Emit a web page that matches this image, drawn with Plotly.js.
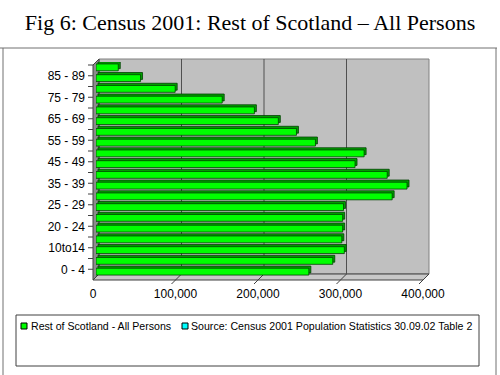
<!DOCTYPE html>
<html><head><meta charset="utf-8">
<script src="https://cdn.plot.ly/plotly-3.0.1.min.js"></script>
<style>html,body{margin:0;padding:0;background:#fff}#chart{width:500px;height:375px}</style>
</head><body><div id="chart"></div>
<script>
// ---- data ----
const ageGroups = ["0 - 4","5 - 9","10to14","15 - 19","20 - 24","16 - 24","25 - 29","30 - 34","35 - 39","40 - 44",
                   "45 - 49","50 - 54","55 - 59","60 - 64","65 - 69","70 - 74","75 - 79","80 - 84","85 - 89","90+"];
const ageLabels = ["0 - 4","","10to14","","20 - 24","","25 - 29","","35 - 39","",
                   "45 - 49","","55 - 59","","65 - 69","","75 - 79","","85 - 89",""];
const persons = [258000,287000,301000,298000,299000,299000,300000,359000,377000,353000,
                 314000,325000,266000,243000,221000,192000,153000,96000,54000,27000];
const xTickVals = [0,100000,200000,300000,400000];
const seriesName = "Rest of Scotland - All Persons";
const sourceName = "Source: Census 2001 Population Statistics 30.09.02 Table 2";
const seriesColors = ["#00ff00", "#00ffff"];
const titleText = "Fig 6: Census 2001: Rest of Scotland \u2013 All Persons";

// ---- geometry (pixels) ----
const L = 96, T = 62, W = 330, H = 215, FIGW = 500, FIGH = 375;
const D = 3; // half depth offset in px
const px = x => (x - L) / W;
const py = y => (T + H - y) / H;
const barW = 0.64;

const FONT = "Liberation Sans, Arial, sans-serif";

const shapes = [];
// back wall
shapes.push({type:'rect', xref:'paper', yref:'paper', layer:'below',
  x0:px(L + D), x1:px(L + W + D), y0:py(T + H - D), y1:py(T - D),
  fillcolor:'#c0c0c0', line:{color:'#808080', width:1}});
// floor
shapes.push({type:'path', xref:'paper', yref:'paper', layer:'below',
  path:`M${px(L-D)},${py(T+H+D)} L${px(L+W-D)},${py(T+H+D)} L${px(L+W+D)},${py(T+H-D)} L${px(L+D)},${py(T+H-D)} Z`,
  fillcolor:'#c8c8c8', line:{color:'#404040', width:1}});
// left wall
shapes.push({type:'path', xref:'paper', yref:'paper', layer:'below',
  path:`M${px(L-D)},${py(T+D)} L${px(L+D)},${py(T-D)} L${px(L+D)},${py(T+H-D)} L${px(L-D)},${py(T+H+D)} Z`,
  fillcolor:'#8c8c8c', line:{color:'#404040', width:1}});
// gridlines on back wall + depth lines / ticks on floor
xTickVals.forEach(v => {
  if (v > 0) {
    shapes.push({type:'line', xref:'x', xsizemode:'pixel', xanchor:v, x0:D, x1:D,
      yref:'paper', y0:py(T+H-D), y1:py(T-D), layer:'below', line:{color:'#505050', width:1}});
  }
  shapes.push({type:'line', xref:'x', xsizemode:'pixel', xanchor:v, x0:D, x1:-D-4,
    yref:'paper', y0:py(T+H-D), y1:py(T+H+D+4), layer:'below', line:{color:'#404040', width:1}});
});
// category boundary ticks on the front left edge
for (let i = 0; i <= ageGroups.length; i++) {
  shapes.push({type:'line', xref:'paper', x0:px(L-D-5), x1:px(L-D),
    yref:'y', ysizemode:'pixel', yanchor:i - 0.5, y0:-D, y1:-D, layer:'above',
    line:{color:'#404040', width:1}});
}
// outer frame
shapes.push({type:'line', xref:'paper', yref:'paper', x0:px(0), x1:px(497), y0:py(48), y1:py(48), line:{color:'#707070', width:1}});
shapes.push({type:'line', xref:'paper', yref:'paper', x0:px(3), x1:px(3), y0:py(48), y1:py(380), line:{color:'#707070', width:1}});
shapes.push({type:'line', xref:'paper', yref:'paper', x0:px(496), x1:px(496), y0:py(48), y1:py(380), line:{color:'#707070', width:1}});
// legend frame
shapes.push({type:'rect', xref:'paper', yref:'paper', x0:px(16), x1:px(479), y0:py(366), y1:py(315),
  line:{color:'#404040', width:1}, fillcolor:'rgba(0,0,0,0)'});
// legend keys (compact Excel-style swatches)
[[21, seriesColors[0]], [182, seriesColors[1]]].forEach(([x, c]) => {
  shapes.push({type:'rect', xref:'paper', yref:'paper', x0:px(x), x1:px(x + 6), y0:py(329), y1:py(323),
    fillcolor:c, line:{color:'#000', width:1}});
});

const traces = [
  { type:'bar', orientation:'h', y:ageGroups, x:persons, base:2400,
    width:barW, offset:-barW/2 + 0.2, showlegend:false, hoverinfo:'skip',
    marker:{color:'#00a000', line:{color:'#004000', width:0.8}} },
  { type:'bar', orientation:'h', y:ageGroups, x:persons, name:seriesName,
    width:barW, offset:-barW/2, showlegend:false,
    marker:{color:seriesColors[0], line:{color:'#004000', width:0.8}} },
  { type:'scatter', mode:'markers', x:[null], y:[null], name:seriesName, legend:'legend',
    marker:{symbol:'square', size:1, color:'rgba(0,0,0,0)', line:{width:0}} },
  { type:'scatter', mode:'markers', x:[null], y:[null], name:sourceName, legend:'legend2',
    marker:{symbol:'square', size:1, color:'rgba(0,0,0,0)', line:{width:0}} }
];

const legendCommon = {orientation:'h', yanchor:'middle', y:py(326), xanchor:'left',
  bgcolor:'rgba(0,0,0,0)', borderwidth:0, font:{family:FONT, size:10.6, color:'#000'}};

const layout = {
  width:FIGW, height:FIGH,
  margin:{l:L, r:FIGW - L - W, t:T, b:FIGH - T - H, autoexpand:false},
  paper_bgcolor:'#fff', plot_bgcolor:'rgba(0,0,0,0)',
  title:{text:titleText, font:{family:'Liberation Serif, Times New Roman, serif', size:22, color:'#000'},
    xref:'container', x:0.5, xanchor:'center', yref:'container', y:1 - 22/FIGH, yanchor:'middle'},
  barmode:'overlay',
  xaxis:{range:[0,400000], tickvals:xTickVals, tickformat:',d', showgrid:false, zeroline:false,
    showline:false, ticks:'', ticklabelshift:-D, ticklabelstandoff:8,
    tickfont:{family:FONT, size:12, color:'#000'}, fixedrange:true},
  yaxis:{type:'category', categoryorder:'array', categoryarray:ageGroups, range:[-0.5, ageGroups.length - 0.5],
    tickmode:'array', tickvals:ageGroups, ticktext:ageLabels, showgrid:false, zeroline:false,
    showline:false, ticks:'', ticklabelshift:-2, ticklabelstandoff:10,
    tickfont:{family:FONT, size:12, color:'#000'}, fixedrange:true},
  shapes:shapes,
  legend:Object.assign({}, legendCommon, {x:px(-9)}),
  legend2:Object.assign({}, legendCommon, {x:px(151)}),
  showlegend:true
};

Plotly.newPlot('chart', traces, layout, {displayModeBar:false, staticPlot:true});
</script>
</body></html>
